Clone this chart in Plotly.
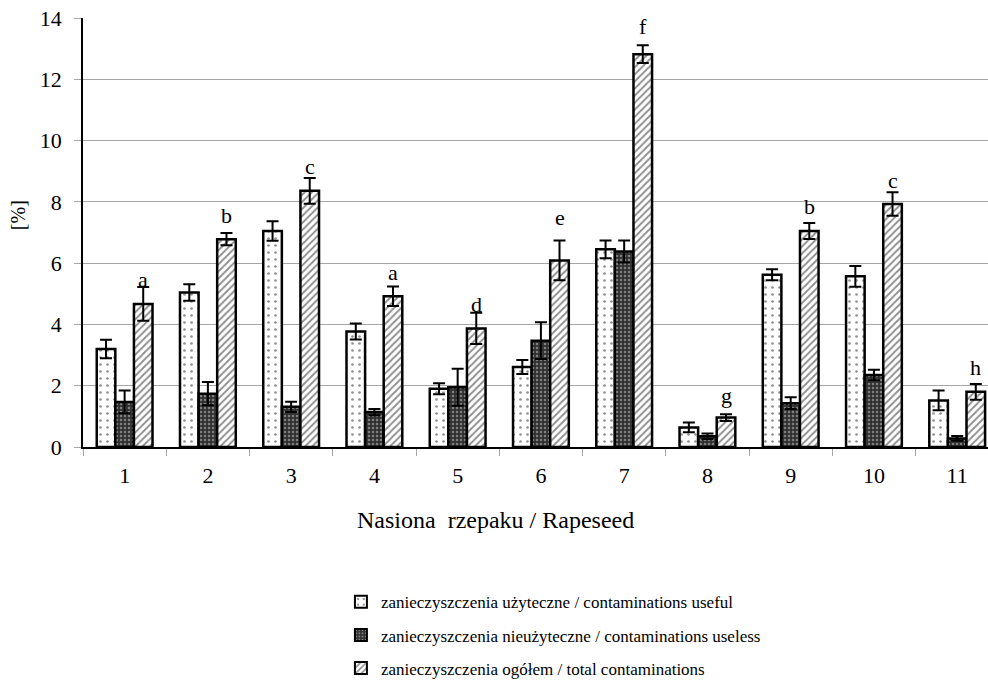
import plotly.graph_objects as go

# Rapeseed samples on the category axis
seeds = ["1", "2", "3", "4", "5", "6", "7", "8", "9", "10", "11"]

# Useful contaminations [%] with their error
useful = [3.20, 5.04, 7.05, 3.77, 1.90, 2.61, 6.45, 0.64, 5.62, 5.57, 1.52]
useful_err = [0.30, 0.27, 0.32, 0.26, 0.18, 0.23, 0.29, 0.16, 0.18, 0.34, 0.32]

# Useless contaminations [%] with their error
useless = [1.47, 1.74, 1.31, 1.14, 1.95, 3.47, 6.38, 0.35, 1.43, 2.35, 0.28]
useless_err = [0.37, 0.38, 0.17, 0.10, 0.60, 0.60, 0.36, 0.09, 0.19, 0.17, 0.08]

# Total contaminations [%] with their error
total = [4.67, 6.78, 8.36, 4.92, 3.87, 6.09, 12.82, 0.96, 7.05, 7.93, 1.80]
total_err = [0.55, 0.20, 0.42, 0.32, 0.51, 0.65, 0.29, 0.11, 0.26, 0.38, 0.26]

# Homogeneous groups marked above the total bars
groups = ["a", "b", "c", "a", "d", "e", "f", "g", "b", "c", "h"]

names = [
    "zanieczyszczenia użyteczne / contaminations useful",
    "zanieczyszczenia nieużyteczne / contaminations useless",
    "zanieczyszczenia ogółem / total contaminations",
]

FONT = "Liberation Serif, Times New Roman, serif"
GRID = "#a6a6a6"
BARGAP = 0.33

# pixel lift of each group letter above its bar
letter_lift = [24, 24, 24, 24, 24, 43, 28, 22, 24, 24, 24]

patterns = [
    dict(shape=".", fgcolor="#222222", bgcolor="white", size=7, solidity=0.12),
    dict(shape=".", fgcolor="#d0d0d0", bgcolor="#303030", size=4, solidity=0.3),
    dict(shape="/", fgcolor="#222222", bgcolor="white", size=5, solidity=0.4),
]

fig = go.Figure()
for i, (vals, errs) in enumerate([(useful, useful_err), (useless, useless_err), (total, total_err)]):
    fig.add_trace(go.Bar(
        x=seeds, y=vals, name=names[i], legendgroup=f"g{i}",
        marker=dict(color="white", pattern=patterns[i],
                    line=dict(color="black", width=2.5)),
        error_y=dict(type="data", array=errs, visible=True,
                     color="black", thickness=2, width=6),
    ))

# the total bar is the third of three bars sharing (1 - BARGAP) of a category
bar_w = (1 - BARGAP) / 3
for k in range(len(seeds)):
    fig.add_annotation(
        x=k + bar_w, y=total[k], text=groups[k], showarrow=False,
        yanchor="middle", yshift=letter_lift[k],
        font=dict(family=FONT, size=22, color="black"),
    )

# axis titles
fig.add_annotation(
    xref="paper", yref="paper", x=0.456, y=-0.17, text="Nasiona  rzepaku / Rapeseed",
    showarrow=False, xanchor="center", yanchor="middle",
    font=dict(family=FONT, size=24, color="black"),
)
fig.add_annotation(
    xref="paper", yref="paper", x=-0.072, y=0.54, text="[%]", textangle=-90,
    showarrow=False, xanchor="center", yanchor="middle",
    font=dict(family=FONT, size=20, color="black"),
)

fig.update_layout(
    width=988, height=689,
    margin=dict(l=83, r=0, t=18, b=242),
    paper_bgcolor="white", plot_bgcolor="white",
    barmode="group", bargap=BARGAP, bargroupgap=0,
    font=dict(family=FONT, size=22, color="black"),
    legend=dict(
        orientation="v", x=0.285, xanchor="left", y=-0.32, yanchor="top",
        font=dict(family=FONT, size=17, color="black"),
        tracegroupgap=8, traceorder="grouped",
        bgcolor="rgba(0,0,0,0)", itemsizing="constant",
    ),
    showlegend=True,
)

fig.update_xaxes(
    type="category", range=[-0.5, 10.37],
    showline=True, linecolor="black", linewidth=1.5,
    ticks="outside", tickson="boundaries", ticklen=7, tickcolor=GRID, tickwidth=1,
    ticklabelstandoff=8, showgrid=False,
    tickfont=dict(family=FONT, size=22, color="black"),
)
fig.update_yaxes(
    range=[0, 14], dtick=2, tick0=0,
    showline=True, linecolor="black", linewidth=1.5,
    ticks="outside", ticklen=7, tickcolor=GRID, tickwidth=1,
    showgrid=True, gridcolor=GRID, gridwidth=1,
    zeroline=False, ticklabelstandoff=8,
    tickfont=dict(family=FONT, size=22, color="black"),
)

fig.write_html("out.html")
